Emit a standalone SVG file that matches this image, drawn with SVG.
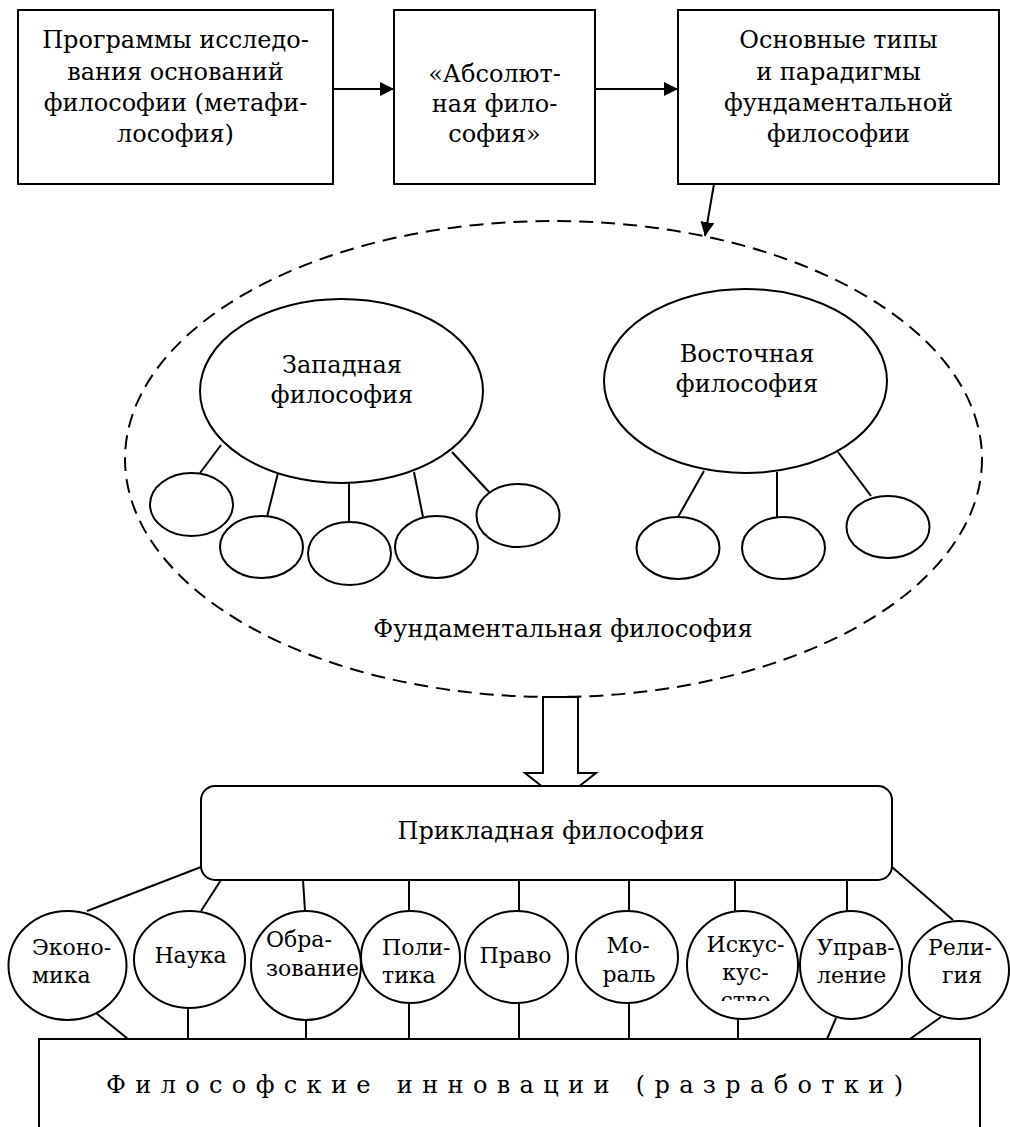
<svg xmlns="http://www.w3.org/2000/svg" width="1010" height="1127" viewBox="0 0 1010 1127">
<style>
.s{fill:#fff;stroke:#000;stroke-width:2}
.n{fill:none;stroke:#000;stroke-width:2}
.t{font-family:"DejaVu Serif","Liberation Serif",serif;font-size:24px;fill:#000}
.c{font-family:"DejaVu Serif","Liberation Serif",serif;font-size:22px;fill:#000}
.m{text-anchor:middle}
</style>
<defs>
<marker id="ah" viewBox="0 0 14 14" refX="14" refY="7" markerWidth="14" markerHeight="14" markerUnits="userSpaceOnUse" orient="auto"><path d="M0,0 L14,7 L0,14 Z" fill="#000"/></marker>
<clipPath id="clipArt"><rect x="680" y="900" width="130" height="101"/></clipPath>
</defs>
<rect width="1010" height="1127" fill="#fff"/>

<g id="connectors">
<line class="n" x1="333" y1="89" x2="394" y2="89" marker-end="url(#ah)"/>
<line class="n" x1="595" y1="89" x2="678" y2="89" marker-end="url(#ah)"/>
<line class="n" x1="714" y1="184" x2="705" y2="236" marker-end="url(#ah)"/>
<line class="n" x1="221" y1="445" x2="200" y2="473"/>
<line class="n" x1="278" y1="473" x2="267" y2="517"/>
<line class="n" x1="349" y1="482" x2="349" y2="522"/>
<line class="n" x1="414" y1="472" x2="423" y2="517"/>
<line class="n" x1="452" y1="452" x2="489" y2="492"/>
<line class="n" x1="704" y1="471" x2="678" y2="517"/>
<line class="n" x1="777" y1="472" x2="777" y2="517"/>
<line class="n" x1="838" y1="452" x2="871" y2="496"/>
<polygon class="s" points="543,697 578,697 578,773 596,773 560.5,801 525,773 543,773"/>
<line class="n" x1="201" y1="867" x2="87" y2="911"/>
<line class="n" x1="221" y1="880" x2="201" y2="911"/>
<line class="n" x1="303" y1="880" x2="305" y2="911"/>
<line class="n" x1="409" y1="880" x2="409" y2="911"/>
<line class="n" x1="519" y1="880" x2="519" y2="911"/>
<line class="n" x1="629" y1="880" x2="629" y2="911"/>
<line class="n" x1="735" y1="880" x2="735" y2="911"/>
<line class="n" x1="847" y1="880" x2="847" y2="911"/>
<line class="n" x1="892" y1="867" x2="953" y2="920"/>
<line class="n" x1="96" y1="1013" x2="128" y2="1039"/>
<line class="n" x1="188" y1="1008" x2="188" y2="1039"/>
<line class="n" x1="306" y1="1020" x2="306" y2="1039"/>
<line class="n" x1="409" y1="1003" x2="409" y2="1039"/>
<line class="n" x1="519" y1="1003" x2="519" y2="1039"/>
<line class="n" x1="629" y1="1003" x2="629" y2="1039"/>
<line class="n" x1="738" y1="1019" x2="738" y2="1039"/>
<line class="n" x1="836" y1="1018" x2="827" y2="1039"/>
<line class="n" x1="941" y1="1017" x2="910" y2="1039"/>
</g>

<g id="box-metaphilosophy">
<rect class="s" x="18" y="10" width="315" height="174"/>
<text class="t m" x="175.5"><tspan x="175.5" y="48">Программы исследо-</tspan><tspan x="175.5" y="80">вания оснований</tspan><tspan x="175.5" y="111">философии (метафи-</tspan><tspan x="175.5" y="142">лософия)</tspan></text>
</g>
<g id="box-absolute">
<rect class="s" x="394" y="10" width="201" height="174"/>
<text class="t m"><tspan x="494.5" y="82">«Абсолют-</tspan><tspan x="494.5" y="112">ная фило-</tspan><tspan x="494.5" y="142">софия»</tspan></text>
</g>
<g id="box-types">
<rect class="s" x="678" y="10" width="321" height="174"/>
<text class="t m"><tspan x="838.5" y="48">Основные типы</tspan><tspan x="838.5" y="80">и парадигмы</tspan><tspan x="838.5" y="111">фундаментальной</tspan><tspan x="838.5" y="142">философии</tspan></text>
</g>

<g id="fundamental">
<ellipse cx="553.5" cy="459" rx="428.5" ry="238" fill="none" stroke="#000" stroke-width="2" stroke-dasharray="14 8"/>
<text class="t m" x="563" y="637">Фундаментальная философия</text>
</g>
<g id="western">
<ellipse class="s" cx="341.5" cy="391" rx="141.5" ry="92"/>
<text class="t m"><tspan x="342" y="373">Западная</tspan><tspan x="342" y="403">философия</tspan></text>
</g>
<g id="western-1"><ellipse class="s" cx="191.5" cy="504.5" rx="41.5" ry="31.5"/></g>
<g id="western-2"><ellipse class="s" cx="261.5" cy="547" rx="41.5" ry="31"/></g>
<g id="western-3"><ellipse class="s" cx="349.5" cy="553.5" rx="41.5" ry="31.5"/></g>
<g id="western-4"><ellipse class="s" cx="436.5" cy="547" rx="41.5" ry="31"/></g>
<g id="western-5"><ellipse class="s" cx="518" cy="515.5" rx="41.5" ry="31.5"/></g>
<g id="eastern">
<ellipse class="s" cx="745.5" cy="381" rx="141.5" ry="92"/>
<text class="t m"><tspan x="747" y="362">Восточная</tspan><tspan x="747" y="392">философия</tspan></text>
</g>
<g id="eastern-1"><ellipse class="s" cx="678" cy="548" rx="41.5" ry="31"/></g>
<g id="eastern-2"><ellipse class="s" cx="783.5" cy="548" rx="41.5" ry="31"/></g>
<g id="eastern-3"><ellipse class="s" cx="888" cy="527" rx="41.5" ry="31"/></g>

<g id="applied">
<rect class="s" x="201" y="786" width="691" height="94" rx="14"/>
<text class="t m" x="551" y="839">Прикладная философия</text>
</g>

<g id="economics">
<ellipse class="s" cx="67.5" cy="965.5" rx="59" ry="54.5"/>
<text class="c"><tspan x="32" y="955">Эконо-</tspan><tspan x="32" y="983">мика</tspan></text>
</g>
<g id="science">
<ellipse class="s" cx="189.5" cy="959.5" rx="55.5" ry="48.5"/>
<text class="c m" x="190.5" y="963">Наука</text>
</g>
<g id="education">
<ellipse class="s" cx="306" cy="965.5" rx="55" ry="54.5"/>
<text class="c"><tspan x="266" y="947">Обра-</tspan><tspan x="266" y="976">зование</tspan></text>
</g>
<g id="politics">
<ellipse class="s" cx="410.5" cy="957" rx="49.5" ry="46"/>
<text class="c"><tspan x="382" y="955">Поли-</tspan><tspan x="382" y="983">тика</tspan></text>
</g>
<g id="law">
<ellipse class="s" cx="516.5" cy="957" rx="51.5" ry="46"/>
<text class="c m" x="515.5" y="963">Право</text>
</g>
<g id="morality">
<ellipse class="s" cx="627" cy="957" rx="51" ry="46"/>
<text class="c m"><tspan x="628" y="953">Мо-</tspan><tspan x="629" y="982">раль</tspan></text>
</g>
<g id="art">
<ellipse class="s" cx="742.5" cy="965" rx="55.5" ry="54"/>
<text class="c m" clip-path="url(#clipArt)"><tspan x="745.5" y="952">Искус-</tspan><tspan x="745.5" y="980">кус-</tspan><tspan x="745.5" y="1008">ство</tspan></text>
</g>
<g id="management">
<ellipse class="s" cx="851" cy="965" rx="51" ry="54"/>
<text class="c"><tspan x="817" y="955">Управ-</tspan><tspan x="817" y="983">ление</tspan></text>
</g>
<g id="religion">
<ellipse class="s" cx="959" cy="970" rx="50" ry="49"/>
<text class="c m"><tspan x="960" y="955">Рели-</tspan><tspan x="962" y="983">гия</tspan></text>
</g>

<g id="innovations">
<rect class="s" x="39" y="1039" width="941" height="120"/>
<text class="t" x="106" y="1093" textLength="797" lengthAdjust="spacing">Философские инновации (разработки)</text>
</g>
</svg>
